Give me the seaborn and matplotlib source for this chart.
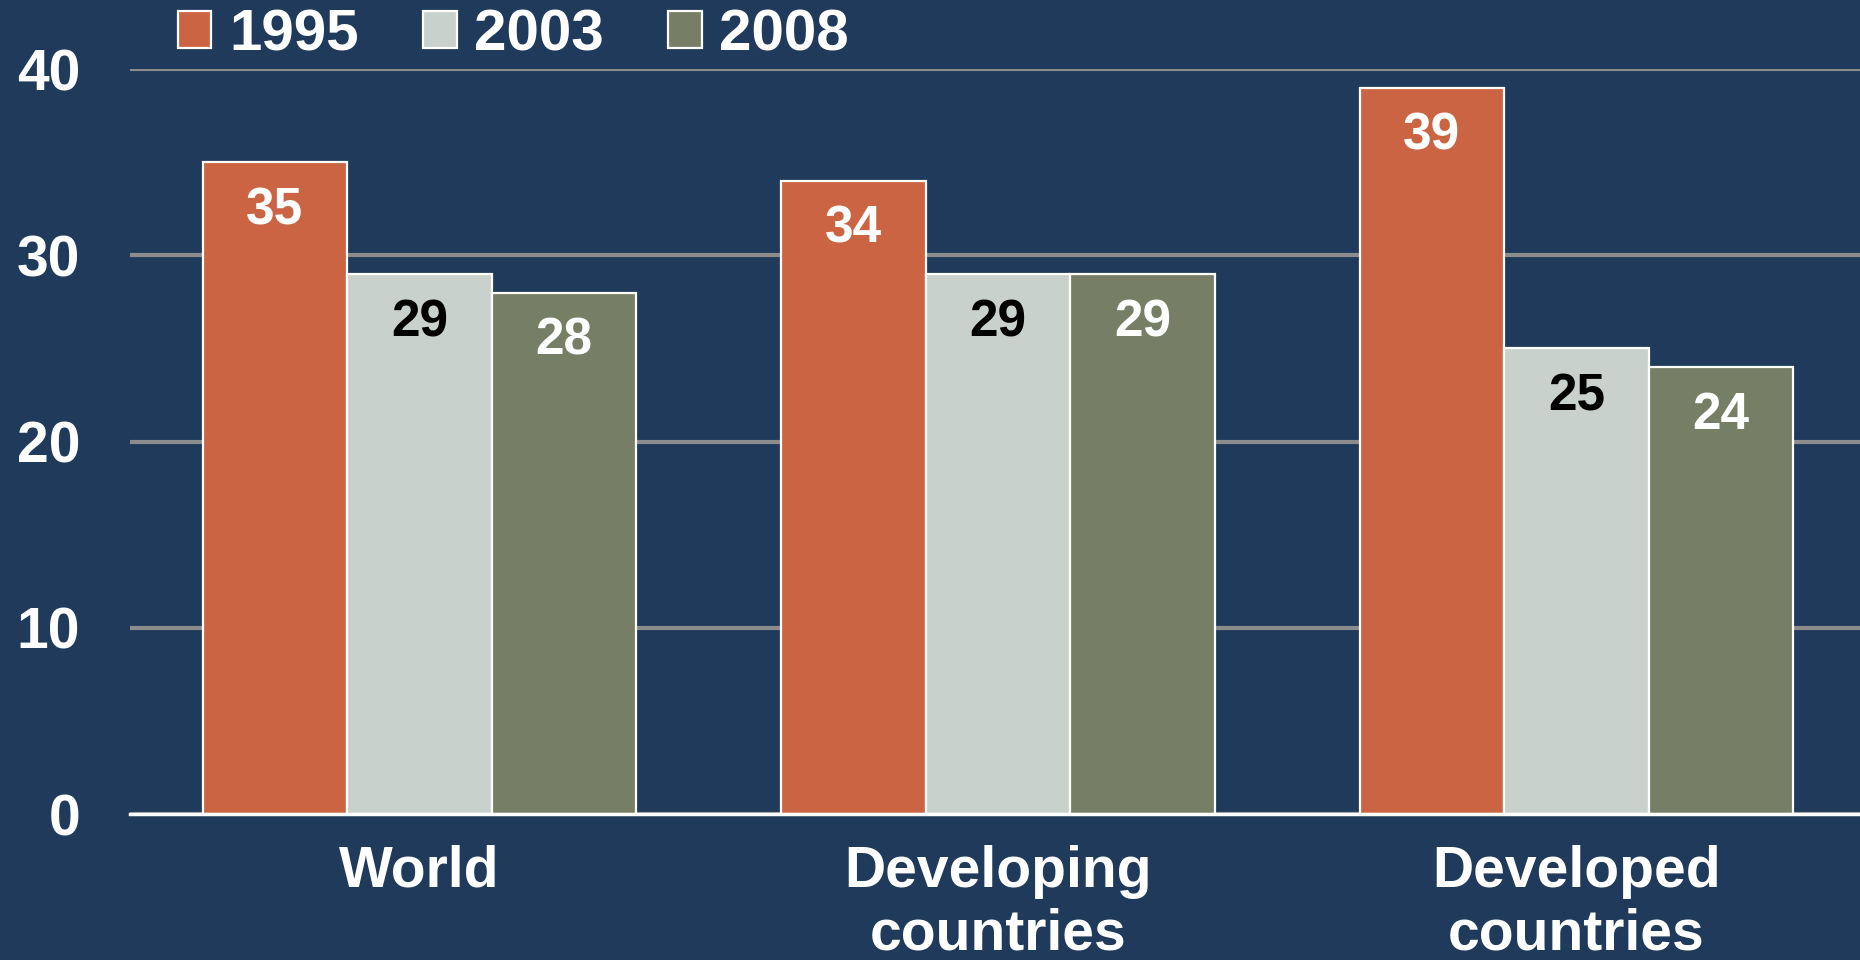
import matplotlib
matplotlib.use("Agg")
import matplotlib.pyplot as plt
import seaborn as sns
import pandas as pd

categories = ["World", "Developing\ncountries", "Developed\ncountries"]
years = ["1995", "2003", "2008"]
values_1995 = [35, 34, 39]
values_2003 = [29, 29, 25]
values_2008 = [28, 29, 24]
y_ticks = [0, 10, 20, 30, 40]

BG = "#1F3A5A"
colors = ["#CB6442", "#C9D1CC", "#767F66"]
label_colors = ["white", "black", "white"]

rows = []
for yr, vals in zip(years, [values_1995, values_2003, values_2008]):
    for c, v in zip(categories, vals):
        rows.append({"category": c, "year": yr, "value": v})
df = pd.DataFrame(rows)

sns.set_theme(style="white")
plt.rcParams["font.family"] = ["Liberation Sans", "DejaVu Sans"]
plt.rcParams["font.weight"] = "bold"

fig = plt.figure(figsize=(18.6, 9.6), dpi=100, facecolor=BG)
ax = fig.add_axes([0.07, 0.152, 0.93, 0.776])
ax.set_facecolor(BG)

sns.barplot(data=df, x="category", y="value", hue="year", order=categories,
            hue_order=years, palette=colors, width=0.75, gap=0,
            edgecolor="white", linewidth=1.6, ax=ax, zorder=3, saturation=1)

ax.set_ylim(0, 40)
ax.set_xlim(-0.5, 2.49)
ax.set_yticks(y_ticks)
ax.yaxis.grid(True, color="#8C8C8C", linewidth=3.0, zorder=0)
ax.set_axisbelow(True)
for s in ["top", "right", "left"]:
    ax.spines[s].set_visible(False)
ax.spines["bottom"].set_color("white")
ax.spines["bottom"].set_linewidth(2.5)
ax.spines["bottom"].set_zorder(5)
ax.tick_params(axis="y", length=0, pad=36, labelsize=41, labelcolor="white")
ax.tick_params(axis="x", length=0, pad=22, labelsize=41, labelcolor="white")
for t in ax.get_xticklabels():
    t.set_fontweight("bold")
    t.set_linespacing(1.22)
for t in ax.get_yticklabels():
    t.set_fontweight("bold")
ax.set_xlabel("")
ax.set_ylabel("")

for cont, lc in zip(ax.containers, label_colors):
    for bar in cont:
        h = bar.get_height()
        ax.annotate(f"{h:.0f}", (bar.get_x() + bar.get_width() / 2, h),
                    xytext=(0, -35), textcoords="offset points",
                    ha="center", va="center", fontsize=37,
                    fontweight="bold", color=lc, zorder=6)

handles, labels = ax.get_legend_handles_labels()
ax.get_legend().remove()
leg = fig.legend(handles, labels, loc="center left", bbox_to_anchor=(0.0955, 0.963),
                 ncol=3, frameon=False, fontsize=42, handlelength=0.58,
                 handleheight=0.6, handletextpad=0.3, columnspacing=1.1,
                 borderpad=0, borderaxespad=0)
for t in leg.get_texts():
    t.set_color("white")
    t.set_fontweight("bold")

fig.savefig("out.png", dpi=100, facecolor=BG)
